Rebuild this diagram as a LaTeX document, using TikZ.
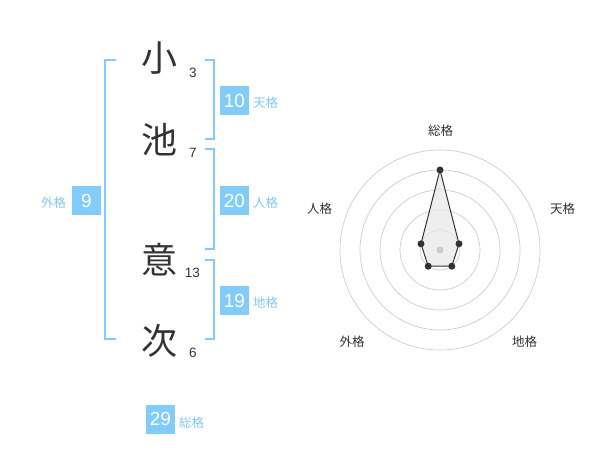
\documentclass[tikz,border=0pt]{standalone}
\usepackage{fontspec}
\setmainfont{Liberation Sans}
\newfontfamily\cjk{Noto Sans CJK JP}
\definecolor{boxblue}{RGB}{130,204,252}
\definecolor{lblblue}{RGB}{130,200,245}
\definecolor{ink}{RGB}{51,51,51}
\definecolor{ringgray}{RGB}{204,204,204}
\definecolor{polyfill}{RGB}{232,232,232}
\tikzset{
  kanji/.style={font=\cjk\fontsize{36}{36}\selectfont, text=ink, inner sep=0pt},
  strokes/.style={font=\fontsize{13.5}{14}\selectfont, text=ink, inner sep=0pt},
  numbox/.style={fill=boxblue, text=white, minimum size=29pt, inner sep=0pt, font=\fontsize{19}{19}\selectfont},
  kaku/.style={font=\cjk\fontsize{12.5}{13}\selectfont, text=lblblue, inner sep=0pt},
  radlbl/.style={font=\cjk\fontsize{12.5}{13}\selectfont, text=ink, inner sep=0pt},
  bracket/.style={draw=boxblue, line width=2pt},
  ring/.style={draw=ringgray, line width=0.7pt},
  dot/.style={circle, fill=ink, inner sep=0pt, minimum size=7pt},
}
\begin{document}
\begin{tikzpicture}[x=1pt,y=-1pt]
\useasboundingbox (0,0) rectangle (600,470);
% characters
\node[kanji] (c1) at (159,58) {小};
\node[kanji] (c2) at (159,140) {池};
\node[kanji] (c3) at (159,260) {意};
\node[kanji] (c4) at (159,341) {次};
\node[strokes] (s1) at (193,72.5) {3};
\node[strokes] (s2) at (193,152.5) {7};
\node[strokes] (s3) at (192.5,273) {13};
\node[strokes] (s4) at (193,352.5) {6};
% brackets
\draw[bracket] (116,60) -- (105,60) -- (105,339.3) -- (116,339.3);
\draw[bracket] (205,60) -- (214,60) -- (214,139.3) -- (205,139.3);
\draw[bracket] (205,149.3) -- (214,149.3) -- (214,249.3) -- (205,249.3);
\draw[bracket] (205,260) -- (214,260) -- (214,339.3) -- (205,339.3);
% boxes
\node[numbox] (ten) at (234.5,100.5) {10};
\node[kaku] (tenl) at (265.5,103) {天格};
\node[numbox] (jin) at (234.5,200.5) {20};
\node[kaku] (jinl) at (265.5,203) {人格};
\node[numbox] (chi) at (234.5,300.5) {19};
\node[kaku] (chil) at (265.5,303) {地格};
\node[numbox] (gai) at (86.5,200.5) {9};
\node[kaku] (gail) at (53.5,203) {外格};
\node[numbox] (sou) at (160.5,419) {29};
\node[kaku] (soul) at (191.5,422.5) {総格};
% radar
\coordinate (o) at (440,250);
\foreach \r in {20,40,60,80,100} \draw[ring] (o) circle (\r);
\coordinate (pS) at (440,170);
\coordinate (pT) at (459.0,243.8);
\coordinate (pC) at (451.8,266.2);
\coordinate (pG) at (428.2,266.2);
\coordinate (pJ) at (421.0,243.8);
\draw[ink, line width=1pt, fill=polyfill, fill opacity=0.75] (pS) -- (pT) -- (pC) -- (pG) -- (pJ) -- cycle;
\fill[ringgray] (o) circle (3.5);
\foreach \p in {pS,pT,pC,pG,pJ} \node[dot] at (\p) {};
\node[radlbl] (lS) at (440.5,130.5) {総格};
\node[radlbl] (lT) at (562.5,208.5) {天格};
\node[radlbl] (lJ) at (319.5,208.5) {人格};
\node[radlbl] (lG) at (352,342) {外格};
\node[radlbl] (lC) at (524.5,342) {地格};
\end{tikzpicture}
\end{document}
